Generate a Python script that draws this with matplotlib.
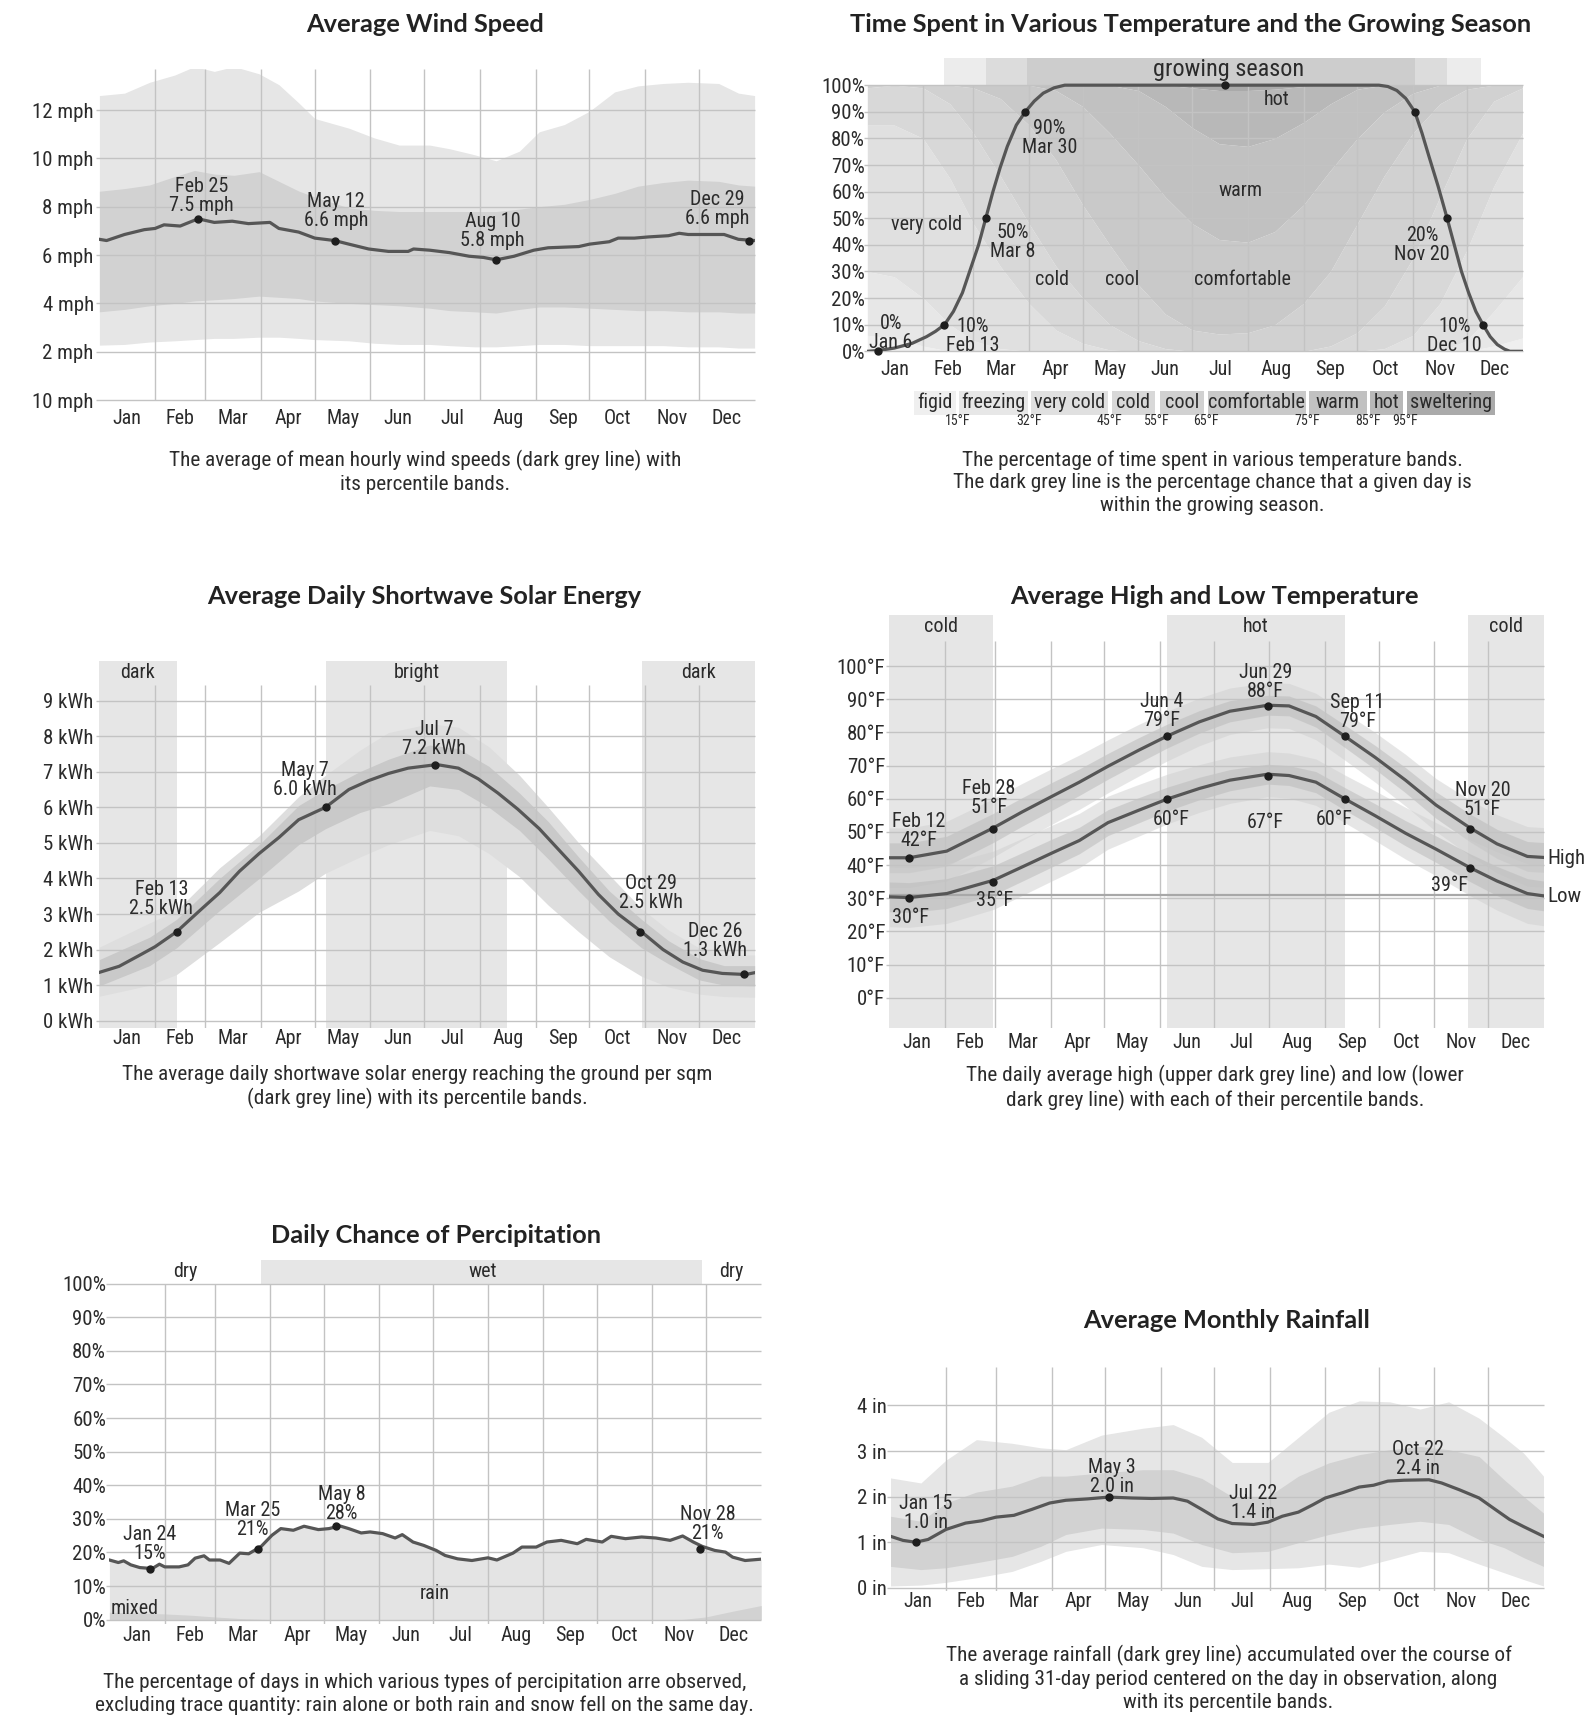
import matplotlib
matplotlib.use('Agg')
import numpy as np
import matplotlib.pyplot as plt
from matplotlib import font_manager
from matplotlib.patches import Rectangle

# ---------------- data ----------------
MONTHS = ['Jan', 'Feb', 'Mar', 'Apr', 'May', 'Jun', 'Jul', 'Aug', 'Sep', 'Oct', 'Nov', 'Dec']
MONTH_START = [0, 31, 59, 90, 120, 151, 181, 212, 243, 273, 304, 334, 365]

# wind speed (mph)
wind_days = [0, 4, 14, 25, 31, 36, 45, 55, 64, 74, 83, 95, 100, 111, 120, 131, 139, 150, 161, 172, 175, 184,
             195, 206, 214, 221, 231, 242, 250, 267, 273, 284, 289, 298, 306, 317, 323, 328, 339, 348, 356, 365]
wind_avg = [6.65, 6.6, 6.85, 7.05, 7.1, 7.25, 7.2, 7.5, 7.35, 7.4, 7.3, 7.35, 7.1, 6.95, 6.7, 6.6, 6.45, 6.25,
            6.15, 6.15, 6.25, 6.2, 6.1, 5.95, 5.9, 5.8, 5.95, 6.2, 6.3, 6.35, 6.45, 6.55, 6.7, 6.7, 6.75, 6.8,
            6.9, 6.85, 6.85, 6.85, 6.65, 6.6]
wind_band_days = [0, 14, 28, 42, 53, 64, 75, 89, 100, 111, 120, 139, 153, 167, 184, 195, 209, 221, 234, 245,
                  259, 273, 287, 300, 314, 328, 345, 356, 365]
wind_p90 = [12.6, 12.7, 13.15, 13.45, 13.8, 13.6, 13.8, 13.5, 13.05, 12.3, 11.65, 11.25, 10.85, 10.55, 10.55,
            10.4, 10.15, 9.9, 10.3, 11.1, 11.4, 11.95, 12.75, 13.0, 13.1, 13.15, 13.1, 12.7, 12.6]
wind_p75 = [8.64, 8.75, 8.9, 9.25, 9.5, 9.35, 9.3, 9.45, 9.05, 8.65, 8.4, 7.95, 7.85, 7.8, 7.8, 7.8, 7.8, 7.8,
            7.9, 8.0, 8.1, 8.3, 8.55, 8.85, 9.0, 9.1, 9.05, 8.9, 8.85]
wind_p25 = [3.65, 3.75, 3.9, 4.0, 4.1, 4.15, 4.2, 4.3, 4.25, 4.2, 4.1, 4.0, 3.95, 3.9, 3.8, 3.7, 3.65, 3.6,
            3.75, 3.85, 3.85, 3.8, 3.75, 3.7, 3.7, 3.65, 3.65, 3.6, 3.6]
wind_p10 = [2.27, 2.3, 2.4, 2.45, 2.5, 2.55, 2.55, 2.6, 2.6, 2.55, 2.5, 2.45, 2.35, 2.3, 2.3, 2.25, 2.2, 2.2,
            2.25, 2.3, 2.3, 2.25, 2.25, 2.25, 2.25, 2.2, 2.2, 2.15, 2.15]
wind_dot_days = [55, 131, 221, 362]
wind_dot_vals = [7.5, 6.6, 5.8, 6.6]
wind_notes = ['Feb 25\n7.5 mph', 'May 12\n6.6 mph', 'Aug 10\n5.8 mph', 'Dec 29\n6.6 mph']
wind_ticks = [0, 2, 4, 6, 8, 10, 12]
wind_ticklabels = ['10 mph', '2 mph', '4 mph', '6 mph', '8 mph', '10 mph', '12 mph']

# time spent in temperature bands (cumulative % below each threshold)
band_days = [0, 15, 31, 46, 59, 74, 90, 105, 120, 135, 151, 166, 181, 196, 212, 227, 243, 258, 273, 288,
             304, 319, 334, 349, 365]
below_15 = [6, 5, 2, 0, 0, 0, 0, 0, 0, 0, 0, 0, 0, 0, 0, 0, 0, 0, 0, 0, 0, 0, 0, 2, 5]
below_32 = [30, 28, 20, 10, 4, 1, 0, 0, 0, 0, 0, 0, 0, 0, 0, 0, 0, 0, 0, 0, 0, 0, 4, 15, 28]
below_45 = [85, 85, 80, 65, 48, 32, 18, 8, 3, 0.5, 0, 0, 0, 0, 0, 0, 0, 0, 0, 1, 6, 18, 38, 62, 82]
below_55 = [99, 100, 99, 93, 82, 66, 48, 32, 20, 10, 4, 1, 0, 0, 0, 0, 0, 2, 7, 17, 35, 58, 80, 94, 99]
below_65 = [100, 100, 100, 100, 99, 95, 85, 72, 55, 40, 25, 14, 8, 6.5, 7, 10, 18, 30, 48, 66, 82, 93, 98.5,
            100, 100]
below_75 = [100, 100, 100, 100, 100, 100, 100, 98, 92, 82, 70, 58, 48, 42, 41, 45, 55, 68, 80, 90, 97, 100,
            100, 100, 100]
below_85 = [100, 100, 100, 100, 100, 100, 100, 100, 100, 100, 98, 92, 84, 78, 77, 80, 86, 93, 98.5, 100, 100,
            100, 100, 100, 100]
below_95 = [100, 100, 100, 100, 100, 100, 100, 100, 100, 100, 100, 100, 99, 98, 98, 98.5, 99.5, 100, 100, 100,
            100, 100, 100, 100, 100]
band_names = ['figid', 'freezing', 'very cold', 'cold', 'cool', 'comfortable', 'warm', 'hot', 'sweltering']
band_limits = ['15°F', '32°F', '45°F', '55°F', '65°F', '75°F', '85°F', '95°F']
band_colors = ['#efefef', '#e7e7e7', '#e0e0e0', '#d8d8d8', '#d1d1d1', '#c9c9c9', '#c1c1c1', '#b8b8b8', '#aaaaaa']
gs_days = [0, 6, 15, 25, 33, 38, 43, 48, 53, 57, 62, 66, 70, 74, 78, 83, 88, 93, 98, 104, 110, 200, 285, 290,
           295, 300, 305, 309, 313, 318, 323, 327, 331, 335, 339, 343, 347, 351, 355, 358, 365]
gs_vals = [0, 0.3, 1.2, 3, 5.5, 7.5, 10, 15, 22, 30, 40, 50, 60, 69, 77, 85, 90, 94, 97, 99, 100, 100, 100,
           99.5, 98, 95, 90, 82, 73, 62, 50, 40, 30, 22, 15, 10, 5.5, 2.5, 0.8, 0, 0]
gs_dot_days = [6, 43, 66, 88, 199, 305, 323, 343]
gs_dot_vals = [0, 10, 50, 90, 100, 90, 50, 10]
gs_notes = ['0%\nJan 6', '10%\nFeb 13', '50%\nMar 8', '90%\nMar 30', '20%\nNov 20', '10%\nDec 10']
gs_season = [(43, 342), (66, 323), (89, 305)]     # 10%, 50%, 90% chance spans
pct_ticks = [0, 10, 20, 30, 40, 50, 60, 70, 80, 90, 100]

# solar energy (kWh)
solar_days = [0, 11, 22, 31, 43, 56, 67, 78, 89, 100, 111, 126, 139, 150, 161, 172, 188, 200, 211, 222, 233,
              245, 256, 267, 278, 289, 302, 314, 325, 336, 347, 360, 365]
solar_avg = [1.36, 1.53, 1.83, 2.08, 2.5, 3.1, 3.6, 4.2, 4.7, 5.15, 5.65, 6.0, 6.5, 6.75, 6.95, 7.1, 7.2, 7.1,
             6.8, 6.4, 5.95, 5.4, 4.8, 4.2, 3.55, 3.0, 2.5, 2.0, 1.65, 1.42, 1.33, 1.3, 1.35]
solar_band_days = [0, 28, 43, 67, 89, 111, 126, 145, 161, 184, 200, 217, 234, 250, 267, 284, 302, 317, 334,
                   348, 365]
solar_p90 = [2.07, 2.75, 3.1, 4.3, 5.2, 6.3, 6.9, 7.6, 8.1, 8.35, 8.25, 7.7, 6.9, 6.0, 5.0, 4.1, 3.15, 2.55,
             2.05, 1.85, 1.85]
solar_p75 = [1.72, 2.35, 2.85, 4.0, 4.95, 6.05, 6.5, 7.0, 7.35, 7.75, 7.65, 7.15, 6.4, 5.6, 4.6, 3.65, 2.85,
             2.25, 1.75, 1.55, 1.55]
solar_p25 = [0.98, 1.55, 2.05, 3.1, 4.0, 4.95, 5.4, 5.85, 6.1, 6.6, 6.5, 6.0, 5.35, 4.55, 3.65, 2.8, 2.05, 1.6,
             1.15, 1.0, 0.98]
solar_p10 = [0.69, 1.0, 1.3, 2.2, 3.05, 3.65, 4.15, 4.6, 4.95, 5.35, 5.2, 4.7, 4.05, 3.25, 2.5, 1.8, 1.25, 0.95,
             0.75, 0.68, 0.66]
solar_dot_days = [43, 126, 187, 301, 359]
solar_dot_vals = [2.5, 6.0, 7.2, 2.5, 1.3]
solar_notes = ['Feb 13\n2.5 kWh', 'May 7\n6.0 kWh', 'Jul 7\n7.2 kWh', 'Oct 29\n2.5 kWh', 'Dec 26\n1.3 kWh']
solar_periods = [('dark', 0, 43), ('bright', 126.5, 227), ('dark', 302, 365)]

# temperature (°F)
temp_days = [0, 11, 32, 58, 74, 91, 106, 122, 139, 155, 173, 190, 211, 223, 238, 254, 271, 288, 305, 324, 339,
             356, 365]
temp_high = [42.2, 42.2, 44.2, 51.2, 56, 60.8, 65, 69.8, 74.6, 78.9, 83.2, 86.4, 88.2, 88, 84.8, 78.9, 72.5,
             65.6, 58.1, 51.2, 46.4, 42.6, 42.3]
temp_low = [30.4, 30.2, 31.4, 35.4, 39.4, 43.7, 47.4, 52.8, 56.5, 59.9, 63.1, 65.6, 67.4, 67, 65, 60, 54.9,
            49.6, 44.8, 39.2, 35.2, 31.4, 30.7]
temp_inner = [4.5, 4.5, 4.5, 4.4, 4.3, 4.2, 4, 3.9, 3.8, 3.6, 3.4, 3.2, 3, 3, 3.2, 3.4, 3.6, 3.8, 4, 4.2, 4.4,
              4.5, 4.5]
temp_outer = [9, 9, 9, 8.8, 8.6, 8.4, 8.2, 8, 7.8, 7.5, 7.2, 7, 6.8, 6.8, 7, 7.2, 7.5, 7.8, 8, 8.4, 8.8, 9, 9]
temp_dot_days = [11, 58, 155, 211, 254, 324]
high_dots = [42, 51, 79, 88, 79, 51]
low_dots = [30, 35, 60, 67, 60, 39]
high_notes = ['Feb 12\n42°F', 'Feb 28\n51°F', 'Jun 4\n79°F', 'Jun 29\n88°F', 'Sep 11\n79°F', 'Nov 20\n51°F']
low_notes = ['30°F', '35°F', '60°F', '67°F', '60°F', '39°F']
temp_periods = [('cold', 0, 58), ('hot', 155, 254), ('cold', 323, 365)]
temp_ticks = [0, 10, 20, 30, 40, 50, 60, 70, 80, 90, 100]

# precipitation chance (%)
precip_days = [0, 5, 8, 12, 17, 24, 28, 31, 39, 44, 48, 53, 56, 62, 67, 73, 78, 85, 91, 96, 103, 109, 117, 123,
               129, 134, 141, 146, 153, 160, 164, 170, 176, 183, 188, 195, 203, 212, 217, 226, 231, 239, 245,
               253, 262, 267, 276, 281, 289, 298, 306, 314, 321, 327, 332, 339, 345, 349, 356, 365]
precip_vals = [17.75, 17.0, 17.5, 16.3, 15.5, 15.2, 16.5, 15.7, 15.7, 16.3, 18.3, 19.0, 17.75, 17.75, 16.75,
               19.8, 19.6, 21.8, 25.1, 27.1, 26.6, 27.8, 26.8, 27.1, 27.9, 27.1, 25.8, 26.1, 25.6, 24.3, 25.3,
               23.1, 22.1, 20.6, 19.1, 18.1, 17.6, 18.4, 17.75, 19.8, 21.6, 21.6, 23.1, 23.6, 22.6, 23.9, 23.1,
               24.8, 24.1, 24.6, 24.3, 23.6, 24.9, 23.1, 21.8, 20.6, 20.1, 18.6, 17.6, 18.0]
mixed_days = [0, 15, 31, 46, 59, 74, 90, 320, 334, 349, 365]
mixed_vals = [2.2, 2.0, 1.7, 1.3, 0.8, 0.3, 0, 0, 0.8, 2.5, 4.2]
precip_dot_days = [23, 83, 127, 331]
precip_dot_vals = [15, 21, 28, 21]
precip_notes = ['Jan 24\n15%', 'Mar 25\n21%', 'May 8\n28%', 'Nov 28\n21%']
wet_season = (85, 332)

# monthly rainfall (in)
rain_days = [0, 7, 14, 21, 31, 42, 51, 59, 69, 79, 89, 98, 110, 122, 135, 146, 158, 166, 174, 183, 191, 203,
             211, 219, 228, 236, 243, 253, 262, 270, 278, 287, 301, 308, 318, 329, 338, 346, 354, 365]
rain_avg = [1.13, 1.04, 1.0, 1.06, 1.28, 1.42, 1.47, 1.55, 1.59, 1.72, 1.86, 1.92, 1.95, 1.99, 1.97, 1.96, 1.97,
            1.9, 1.72, 1.51, 1.41, 1.39, 1.44, 1.57, 1.66, 1.82, 1.97, 2.09, 2.21, 2.25, 2.34, 2.36, 2.37, 2.3,
            2.15, 1.97, 1.72, 1.5, 1.34, 1.13]
rain_band_days = [0, 17, 31, 48, 68, 84, 98, 118, 141, 158, 174, 191, 211, 228, 245, 262, 279, 296, 312, 329,
                  343, 354, 365]
rain_p90 = [2.41, 2.3, 2.8, 3.25, 3.17, 3.07, 3.03, 3.35, 3.5, 3.58, 3.3, 2.75, 2.75, 3.3, 3.85, 4.1, 4.08, 3.92,
            4.08, 3.72, 3.3, 2.95, 2.45]
rain_p75 = [1.57, 1.46, 1.86, 2.1, 2.23, 2.45, 2.45, 2.52, 2.59, 2.59, 2.4, 2.0, 2.0, 2.45, 2.74, 2.92, 3.03, 3.1,
            3.03, 2.88, 2.37, 2.0, 1.64]
rain_p25 = [0.47, 0.4, 0.44, 0.55, 0.69, 0.91, 1.17, 1.31, 1.28, 1.2, 0.95, 0.77, 0.8, 0.99, 1.17, 1.31, 1.39,
            1.46, 1.39, 1.06, 0.88, 0.66, 0.47]
rain_p10 = [0.04, 0.06, 0.12, 0.22, 0.36, 0.58, 0.8, 0.95, 0.88, 0.73, 0.47, 0.4, 0.42, 0.44, 0.52, 0.45, 0.62,
            0.8, 0.77, 0.52, 0.33, 0.18, 0.04]
rain_dot_days = [14, 122]
rain_dot_vals = [1.0, 2.0]
rain_notes = ['Jan 15\n1.0 in', 'May 3\n2.0 in', 'Jul 22\n1.4 in', 'Oct 22\n2.4 in']

# ---------------- style ----------------
names = {f.name for f in font_manager.fontManager.ttflist}
BODY = next((n for n in ['Liberation Sans Narrow', 'Roboto Condensed', 'Roboto'] if n in names), 'DejaVu Sans')
TITLE = 'Lato' if 'Lato' in names else 'DejaVu Sans'
TXT = '#2b2b2b'
GRID = '#c3c3c3'
LINE = '#565656'
OUTER = '#e6e6e6'
INNER = '#d2d2d2'
FS = 15

W, H = 1591, 1732
fig = plt.figure(figsize=(W / 100, H / 100), dpi=100)
plt.rcParams['font.family'] = BODY

over = fig.add_axes([0, 0, 1, 1])
over.set_xlim(0, W)
over.set_ylim(H, 0)
over.axis('off')


def px_axes(left, top, right, bottom):
    return fig.add_axes([left / W, 1 - bottom / H, (right - left) / W, (bottom - top) / H])


def frame(ax, ylim, yticks, ylabels, vtop, xpad, ypad):
    ax.set_xlim(0, 365)
    ax.set_ylim(*ylim)
    for s in ax.spines.values():
        s.set_visible(False)
    ax.patch.set_alpha(0)
    mids = [(a + b) / 2 for a, b in zip(MONTH_START[:-1], MONTH_START[1:])]
    ax.set_xticks(mids, MONTHS)
    ax.set_yticks(yticks, ylabels)
    ax.tick_params(axis='x', length=0, pad=xpad, labelsize=FS - 0.5, labelcolor=TXT)
    ax.tick_params(axis='y', length=0, pad=ypad, labelsize=FS, labelcolor=TXT)
    ax.hlines(yticks, -2, 365, color=GRID, lw=1, zorder=2, clip_on=False)
    ax.vlines(MONTH_START[1:-1], ylim[0], vtop, color=GRID, lw=1, zorder=2)


def notes(ax, xs, ys, texts, size=FS - 0.5):
    for x, y, t in zip(xs, ys, texts):
        ax.text(x, y, t, ha='center', va='center', fontsize=size, color=TXT, linespacing=1.0, zorder=6)


def caption(x, y, text):
    over.text(x, y, text, ha='center', va='top', fontsize=FS + 0.3, color=TXT, linespacing=1.25)


def title(x, y, text):
    over.text(x, y, text, ha='center', va='center', fontsize=18.3, color='#222222',
              family=TITLE, fontweight='bold')


# ---------------- A: wind ----------------
ax = px_axes(99.4, 68.5, 754.6, 400.0)
frame(ax, (0, 13.72), wind_ticks, wind_ticklabels, 13.72, 6.5, 4)
ax.fill_between(wind_band_days, wind_p10, wind_p90, color=OUTER, lw=0, zorder=1)
ax.fill_between(wind_band_days, wind_p25, wind_p75, color=INNER, lw=0, zorder=1)
ax.plot(wind_days, wind_avg, color=LINE, lw=2.3, zorder=3)
ax.plot(wind_dot_days, wind_dot_vals, 'o', ms=5, color='#1e1e1e', zorder=4, clip_on=False)
notes(ax, [57, 131.7, 219, 344], [8.45, 7.81, 7.0, 7.92], wind_notes)
title(425.4, 24.3, 'Average Wind Speed')
caption(425.4, 450, 'The average of mean hourly wind speeds (dark grey line) with\nits percentile bands.')

# ---------------- B: time spent ----------------
ax = px_axes(867.3, 57.5, 1522.5, 351.3)
frame(ax, (0, 110.4), pct_ticks, [f'{p}%' for p in pct_ticks], 100, 6.3, 1.6)
cum = [np.zeros(len(band_days)), below_15, below_32, below_45, below_55, below_65, below_75, below_85,
       below_95, np.full(len(band_days), 100)]
for i, col in enumerate(band_colors):
    ax.fill_between(band_days, cum[i], cum[i + 1], color=col, lw=0, zorder=1)
for (a, b), col in zip(gs_season, ['#ececec', '#dcdcdc', '#cdcdcd']):
    ax.fill_between([a, b], 100, 110.4, color=col, lw=0, zorder=1)
ax.text(201, 105.8, 'growing season', ha='center', va='center', fontsize=17.5, color=TXT)
ax.plot(gs_days, gs_vals, color=LINE, lw=2.3, zorder=3)
ax.plot(gs_dot_days, gs_dot_vals, 'o', ms=5, color='#1e1e1e', zorder=4, clip_on=False)
notes(ax, [13, 58.5, 81, 101.5, 309, 327], [6.8, 5.8, 41, 80, 40, 5.8], gs_notes)
for name, x, y in [('very cold', 33, 47.7), ('cold', 103, 27), ('cool', 142, 27), ('comfortable', 209, 27),
                   ('warm', 208, 60.6), ('hot', 228, 94.6)]:
    ax.text(x, y, name, ha='center', va='center', fontsize=FS - 0.5, color=TXT, zorder=6)
title(1191, 24.3, 'Time Spent in Various Temperature and the Growing Season')

leg_boxes = [(913.7, 955.7), (959, 1027.5), (1030.8, 1108.2), (1111.5, 1154.6), (1160, 1204.3),
             (1207.6, 1306), (1309.3, 1366.7), (1370, 1403.2), (1406.5, 1494.9)]
for (l, r), name, col in zip(leg_boxes, band_names, band_colors):
    over.add_patch(Rectangle((l, 391), r - l, 23.5, color=col, lw=0))
    over.text((l + r) / 2, 402.5, name, ha='center', va='center', fontsize=FS - 0.5, color=TXT)
for (l, r), (l2, r2), lab in zip(leg_boxes[:-1], leg_boxes[1:], band_limits):
    over.text((r + l2) / 2, 421, lab, ha='center', va='center', fontsize=10, color=TXT)
caption(1212, 450, 'The percentage of time spent in various temperature bands.\n'
                   'The dark grey line is the percentage chance that a given day is\n'
                   'within the growing season.')

# ---------------- C: solar ----------------
ax = px_axes(99.4, 660.7, 754.6, 1027.5)
frame(ax, (-0.19, 10.12), list(range(10)), [f'{k} kWh' for k in range(10)], 9.44, 0.8, 4)
for name, a, b in solar_periods:
    ax.fill_between([a, b], -0.19, 10.12, color='#e6e6e6', lw=0, zorder=0.5)
    ax.text((a + b) / 2, 9.8, name, ha='center', va='center', fontsize=FS - 0.5, color=TXT)
ax.fill_between(solar_band_days, solar_p10, solar_p90, color='#dedede', lw=0, zorder=1)
ax.fill_between(solar_band_days, solar_p25, solar_p75, color='#c9c9c9', lw=0, zorder=1)
ax.plot(solar_days, solar_avg, color=LINE, lw=2.3, zorder=3)
ax.plot(solar_dot_days, solar_dot_vals, 'o', ms=5, color='#1e1e1e', zorder=4, clip_on=False)
notes(ax, [34.5, 114.5, 186.5, 307, 343], [3.42, 6.77, 7.93, 3.58, 2.24], solar_notes)
title(424.3, 596.6, 'Average Daily Shortwave Solar Energy')
caption(417.6, 1065, 'The average daily shortwave solar energy reaching the ground per sqm\n'
                     '(dark grey line) with its percentile bands.')

# ---------------- D: temperature ----------------
ax = px_axes(889.4, 615.4, 1543.5, 1027.5)
frame(ax, (-9.0, 115.3), temp_ticks, [f'{t}°F' for t in temp_ticks], 107.7, 4, 3)
for name, a, b in temp_periods:
    ax.fill_between([a, b], -9.0, 115.3, color='#e6e6e6', lw=0, zorder=0.5)
    ax.text((a + b) / 2, 112, name, ha='center', va='center', fontsize=FS - 0.5, color=TXT)
hi, lo = np.array(temp_high), np.array(temp_low)
t_in, t_out = np.array(temp_inner), np.array(temp_outer)
for mid in (hi, lo):
    ax.fill_between(temp_days, mid - t_out, mid + t_out, color='#cfcfcf', alpha=0.5, lw=0, zorder=1)
    ax.fill_between(temp_days, mid - t_in, mid + t_in, color='#b8b8b8', alpha=0.5, lw=0, zorder=1)
ax.axhline(31, color='#a8a8a8', lw=1.6, zorder=2)
ax.plot(temp_days, temp_high, color=LINE, lw=2.3, zorder=3)
ax.plot(temp_days, temp_low, color=LINE, lw=2.3, zorder=3)
ax.plot(temp_dot_days, high_dots, 'o', ms=5, color='#1e1e1e', zorder=4)
ax.plot(temp_dot_days, low_dots, 'o', ms=5, color='#1e1e1e', zorder=4)
notes(ax, [16.6, 55.5, 152, 210, 261, 331], [50.3, 60.3, 86.5, 95.3, 86.3, 59.7], high_notes)
notes(ax, [12, 58.6, 157, 210, 248, 312.5], [24.3, 29.3, 53.7, 52.7, 53.7, 33.7], low_notes)
ax.text(367, 42, 'High', ha='left', va='center', fontsize=FS, color=TXT, clip_on=False)
ax.text(367, 30.5, 'Low', ha='left', va='center', fontsize=FS, color=TXT, clip_on=False)
title(1214.2, 596.6, 'Average High and Low Temperature')
caption(1215.3, 1065, 'The daily average high (upper dark grey line) and low (lower\n'
                      'dark grey line) with each of their percentile bands.')

# ---------------- E: precipitation ----------------
ax = px_axes(109.4, 1259.5, 761.2, 1624.0)
frame(ax, (-1.3, 107.2), pct_ticks, [f'{p}%' for p in pct_ticks], 100, 1.7, 2.4)
ax.fill_between([wet_season[0], wet_season[1]], 100, 107.2, color='#e6e6e6', lw=0, zorder=1)
ax.text(42.7, 103.6, 'dry', ha='center', va='center', fontsize=FS - 0.5, color=TXT)
ax.text(209, 103.6, 'wet', ha='center', va='center', fontsize=FS - 0.5, color=TXT)
ax.text(348.4, 103.6, 'dry', ha='center', va='center', fontsize=FS - 0.5, color=TXT)
ax.fill_between(precip_days, 0, precip_vals, color='#e4e4e4', lw=0, zorder=1)
ax.fill_between(mixed_days, 0, mixed_vals, color='#d2d2d2', lw=0, zorder=1.5)
ax.plot(precip_days, precip_vals, color=LINE, lw=2.3, zorder=3)
ax.plot(precip_dot_days, precip_dot_vals, 'o', ms=5, color='#1e1e1e', zorder=4)
notes(ax, [22.3, 80, 130, 335], [22.5, 29.8, 34.4, 28.5], precip_notes)
ax.text(182, 7.9, 'rain', ha='center', va='center', fontsize=FS - 0.5, color=TXT, zorder=6)
ax.text(14, 3.3, 'mixed', ha='center', va='center', fontsize=FS - 0.5, color=TXT, zorder=6)
title(436.4, 1235.2, 'Daily Chance of Percipitation')
caption(424.3, 1672, 'The percentage of days in which various types of percipitation arre observed,\n'
                     'excluding trace quantity: rain alone or both rain and snow fell on the same day.')

# ---------------- F: rainfall ----------------
ax = px_axes(890.5, 1366.7, 1543.5, 1591.0)
frame(ax, (-0.07, 4.85), [0, 1, 2, 3, 4], [f'{k} in' for k in range(5)], 4.85, 0.8, 2.4)
ax.fill_between(rain_band_days, rain_p10, rain_p90, color=OUTER, lw=0, zorder=1)
ax.fill_between(rain_band_days, rain_p25, rain_p75, color=INNER, lw=0, zorder=1)
ax.plot(rain_days, rain_avg, color=LINE, lw=2.3, zorder=3)
ax.plot(rain_dot_days, rain_dot_vals, 'o', ms=5, color='#1e1e1e', zorder=4)
notes(ax, [19.8, 123.6, 202.7, 294.8], [1.65, 2.44, 1.87, 2.82], rain_notes)
title(1226.4, 1320.3, 'Average Monthly Rainfall')
caption(1228.6, 1645, 'The average rainfall (dark grey line) accumulated over the course of\n'
                      'a sliding 31-day period centered on the day in observation, along\n'
                      'with its percentile bands.')

fig.savefig('out.png', dpi=100, facecolor='white')
